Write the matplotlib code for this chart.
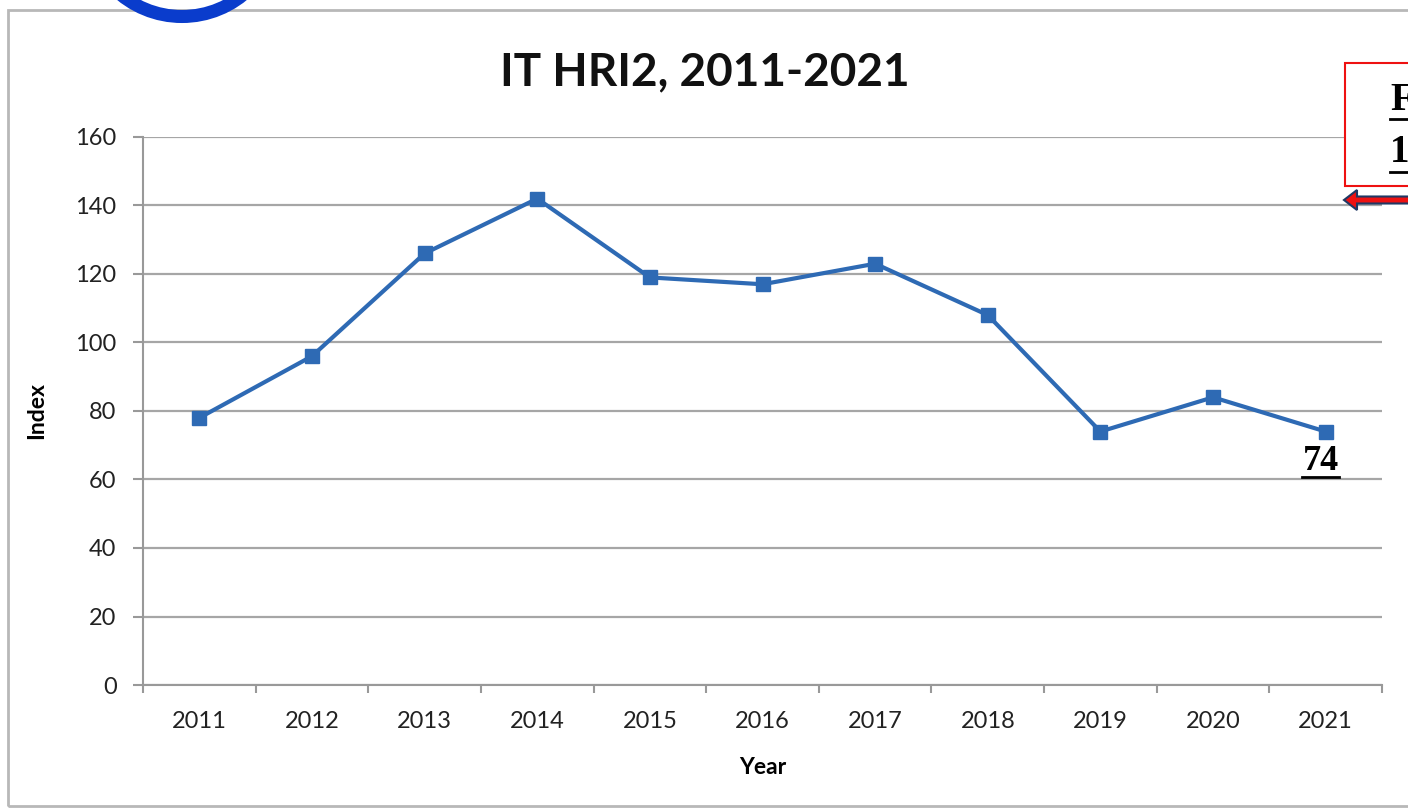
import numpy as np
import matplotlib.pyplot as plt
from matplotlib import patches
from matplotlib.lines import Line2D

years = ['2011', '2012', '2013', '2014', '2015', '2016', '2017', '2018', '2019', '2020', '2021']
index_values = [78, 96, 126, 142, 119, 117, 123, 108, 74, 84, 74]
y_ticks = [0, 20, 40, 60, 80, 100, 120, 140, 160]

plt.rcParams['font.family'] = ['Lato', 'DejaVu Sans']

W, H = 1408, 810


def fx(px):
    return px / W


def fy(py):
    return 1 - py / H


def underline(fig, x0, x1, y_px):
    fig.add_artist(Line2D([fx(x0), fx(x1)], [fy(y_px), fy(y_px)], transform=fig.transFigure,
                          color='black', linewidth=2.0))


fig = plt.figure(figsize=(14.08, 8.10), dpi=100)
fig.patch.set_facecolor('white')

# outer chart frame
frame = patches.Rectangle((fx(8), fy(806)), 1.2, 796 / H, transform=fig.transFigure,
                          fill=False, edgecolor='#b8b8b8', linewidth=2)
fig.patches.append(frame)

# blue ring cut by the top edge
ring = patches.Ellipse((fx(182), fy(-80)), 2 * 96.5 / W, 2 * 96.5 / H, transform=fig.transFigure,
                       fill=False, edgecolor='#0a3ccc', linewidth=9.4)
fig.patches.append(ring)

ax = fig.add_axes([fx(143), fy(685), 1239 / W, 548 / H])
x = np.arange(len(years))
ax.plot(x, index_values, color='#2e6ab4', linewidth=3, marker='s', markersize=10,
        markerfacecolor='#2e6ab4', markeredgecolor='#2e6ab4', zorder=3)

ax.set_xlim(-0.5, len(years) - 0.5)
ax.set_ylim(0, 160)
ax.set_yticks(y_ticks)
ax.set_xticks(x)
ax.set_xticklabels(years)
ax.set_xticks(np.arange(-0.5, len(years)), minor=True)
ax.tick_params(axis='x', which='major', length=0, pad=19, labelsize=17, colors='#222222')
ax.tick_params(axis='x', which='minor', length=6, color='#999999', width=1.5)
ax.tick_params(axis='y', length=7, color='#999999', width=1.5, pad=12, labelsize=17, labelcolor='#222222')

ax.grid(axis='y', color='#a6a6a6', linewidth=1.6)
ax.set_axisbelow(True)
for side in ['top', 'right']:
    ax.spines[side].set_visible(False)
ax.spines['left'].set_color('#999999')
ax.spines['left'].set_linewidth(1.5)
ax.spines['bottom'].set_color('#999999')
ax.spines['bottom'].set_linewidth(1.5)

ax.set_xlabel('Year', fontsize=16.5, fontweight='bold', labelpad=18)
ax.set_ylabel('Index', fontsize=16.5, fontweight='bold', labelpad=20)
fig.text(fx(705), fy(72), 'IT HRI2, 2011-2021', fontsize=33, fontweight='bold',
         ha='center', va='center', color='#111111')

# label of the last point
ax.annotate(str(index_values[-1]), xy=(x[-1], index_values[-1]), xytext=(-5, -30),
            textcoords='offset pixels', fontsize=26, fontweight='bold',
            family='Liberation Serif', ha='center', va='center', color='black')
underline(fig, 1302, 1339, 477)

# red note box at the right edge
box = patches.Rectangle((fx(1345), fy(186)), 0.1, 123 / H, transform=fig.transFigure,
                        fill=True, facecolor='white', edgecolor='#ee1111', linewidth=1.5)
fig.patches.append(box)
fig.text(fx(1390), fy(100), 'F', fontsize=28, fontweight='bold', family='Liberation Serif',
         ha='left', va='center')
fig.text(fx(1390), fy(153), '1', fontsize=28, fontweight='bold', family='Liberation Serif',
         ha='left', va='center')
underline(fig, 1390, 1410, 119)
underline(fig, 1390, 1410, 172)

arrow = patches.FancyArrow(1.02, fy(200), -(1.02 - fx(1357)), 0, width=7 / H,
                           head_width=20 / H, head_length=13 / W, transform=fig.transFigure,
                           facecolor='#ee1111', edgecolor='#1f3864', linewidth=1.5)
fig.patches.append(arrow)

fig.savefig('out.png', dpi=100)
